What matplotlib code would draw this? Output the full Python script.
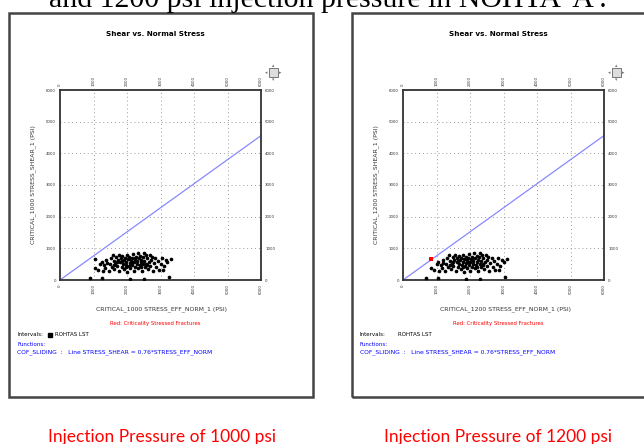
import numpy as np
import matplotlib
matplotlib.use('Agg')
import matplotlib.pyplot as plt
from matplotlib.patches import Rectangle

# data (psi)
injection_pressures = [1000, 1200]
cof_sliding = 0.76
axis_ticks = [0, 1000, 2000, 3000, 4000, 5000, 6000]

# effective normal stress at 1000 psi injection pressure
eff_norm_1000 = [
    1030, 1050, 1120, 1200, 1250, 1280, 1320, 1380, 1400, 1450,
    1480, 1520, 1550, 1580, 1600, 1620, 1650, 1680, 1700, 1720,
    1750, 1770, 1800, 1820, 1840, 1860, 1880, 1900, 1920, 1940,
    1960, 1980, 2000, 2010, 2030, 2050, 2070, 2090, 2100, 2120,
    2140, 2160, 2180, 2200, 2210, 2230, 2250, 2270, 2290, 2300,
    2320, 2340, 2360, 2380, 2400, 2410, 2430, 2450, 2470, 2490,
    2500, 2520, 2540, 2560, 2580, 2600, 2620, 2650, 2680, 2700,
    2720, 2750, 2780, 2800, 2850, 2880, 2920, 2950, 3000, 3050,
    3100, 3150, 3200, 3300, 3080, 1350, 1700, 1980, 2150, 2420,
    2600, 1850, 2250, 2050, 1600, 900, 1250, 2080, 2500, 3250,
]
# shear stress (same fractures, does not change with injection)
shear = [
    650, 380, 330, 520, 560, 300, 470, 620, 550, 300,
    500, 680, 420, 780, 600, 350, 520, 720, 450, 640,
    780, 300, 560, 690, 420, 760, 520, 620, 350, 700,
    480, 580, 800, 260, 660, 440, 720, 540, 380, 620,
    700, 480, 820, 560, 300, 650, 420, 740, 520, 600,
    860, 380, 680, 470, 760, 560, 640, 300, 720, 500,
    840, 600, 420, 780, 520, 680, 360, 560, 800, 450,
    620, 740, 300, 540, 680, 420, 600, 320, 520, 700,
    440, 640, 560, 660, 330, 380, 580, 420, 560, 420,
    460, 600, 700, 650, 460, 60, 70, 20, 30, 100,
]

W, H = 644, 444


def fx(px):
    return px / W


def fy(py):
    return 1 - py / H


fig = plt.figure(figsize=(W / 100, H / 100), dpi=100)
fig.patch.set_facecolor('white')

# cut-off line of the document text above the figures
fig.text(fx(49), fy(7), "and 1200 psi injection pressure in NOHTA 'A'.",
         fontsize=21.5, family='Liberation Serif', ha='left', va='baseline')


def draw_panel(dx, pressure, show_square):
    # outer frame
    fig.add_artist(Rectangle((fx(9 + dx), fy(397)), fx(304), 384 / H,
                             transform=fig.transFigure, fill=False,
                             edgecolor='#444444', lw=1.8))

    fig.text(fx(155 + dx), fy(34), 'Shear vs. Normal Stress', fontsize=5.2,
             fontweight='bold', ha='center', va='center')

    ax = fig.add_axes([fx(60 + dx), fy(280), fx(201), 190 / H])
    norm = np.array(eff_norm_1000) - (pressure - injection_pressures[0])
    sh = np.array(shear)
    critical = sh >= cof_sliding * norm

    line_x = np.array([0, 6000])
    ax.plot(line_x, cof_sliding * line_x, color='#8888ff', lw=0.9, zorder=2)
    ax.scatter(norm[~critical], sh[~critical], s=7, marker='o', color='black',
               lw=0, zorder=3)
    ax.scatter(norm[critical], sh[critical], s=9, marker='s', color='red',
               lw=0, zorder=4)

    ax.set_xlim(0, 6000)
    ax.set_ylim(0, 6000)
    ax.set_xticks(axis_ticks)
    ax.set_yticks(axis_ticks)
    ax.set_xticklabels([str(t) for t in axis_ticks], rotation=90)
    ax.set_yticklabels([str(t) for t in axis_ticks])
    ax.tick_params(labelsize=2.8, length=0, pad=3, labelcolor='#333333',
                   top=True, right=True, labeltop=True, labelright=True)
    ax.grid(True, color='#999999', linestyle=(0, (1, 3)), lw=0.7)
    for sp in ax.spines.values():
        sp.set_linewidth(1.3)
        sp.set_color('#333333')

    fig.text(fx(33 + dx), fy(185),
             f'CRITICAL_{pressure} STRESS_SHEAR_1 (PSI)', rotation=90,
             fontsize=4.4, ha='center', va='center', color='#333333')
    fig.text(fx(162 + dx), fy(309),
             f'CRITICAL_{pressure} STRESS_EFF_NORM_1 (PSI)',
             fontsize=4.4, ha='center', va='center', color='#333333')
    fig.text(fx(155 + dx), fy(324), 'Red: Criticality Stressed Fractures',
             fontsize=3.9, ha='center', va='center', color='red')
    fig.text(fx(17 + dx), fy(335), 'Intervals:', fontsize=4.0,
             ha='left', va='center')
    if show_square:
        fig.add_artist(Rectangle((fx(48 + dx), fy(337)), fx(4), 4 / H,
                                 transform=fig.transFigure, color='black'))
    fig.text(fx(55 + dx), fy(335), 'ROHTAS LST', fontsize=4.0,
             ha='left', va='center')
    fig.text(fx(17 + dx), fy(345), 'Functions:', fontsize=4.0,
             ha='left', va='center', color='blue')
    fig.text(fx(17 + dx), fy(352),
             'COF_SLIDING  :   Line STRESS_SHEAR = 0.76*STRESS_EFF_NORM',
             fontsize=4.3, ha='left', va='center', color='blue')

    # small navigation icon
    fig.add_artist(Rectangle((fx(269 + dx), fy(77)), fx(9), 9 / H,
                             transform=fig.transFigure, facecolor='#dddddd',
                             edgecolor='#777777', lw=0.7))
    for ox, oy, sym in [(-7, 0, '◂'), (7, 0, '▸'), (0, -7, '▴'), (0, 7, '▾')]:
        fig.text(fx(273.5 + dx + ox), fy(72.5 + oy), sym, fontsize=3.5,
                 color='#777777', ha='center', va='center')

    fig.text(fx(162 + dx - (7 if dx else 0)), fy(437),
             f'Injection Pressure of {pressure} psi', fontsize=12.5,
             family='Lato', color='red', ha='center', va='center')


draw_panel(0, injection_pressures[0], True)
draw_panel(343, injection_pressures[1], False)

fig.savefig('out.png', dpi=100)
